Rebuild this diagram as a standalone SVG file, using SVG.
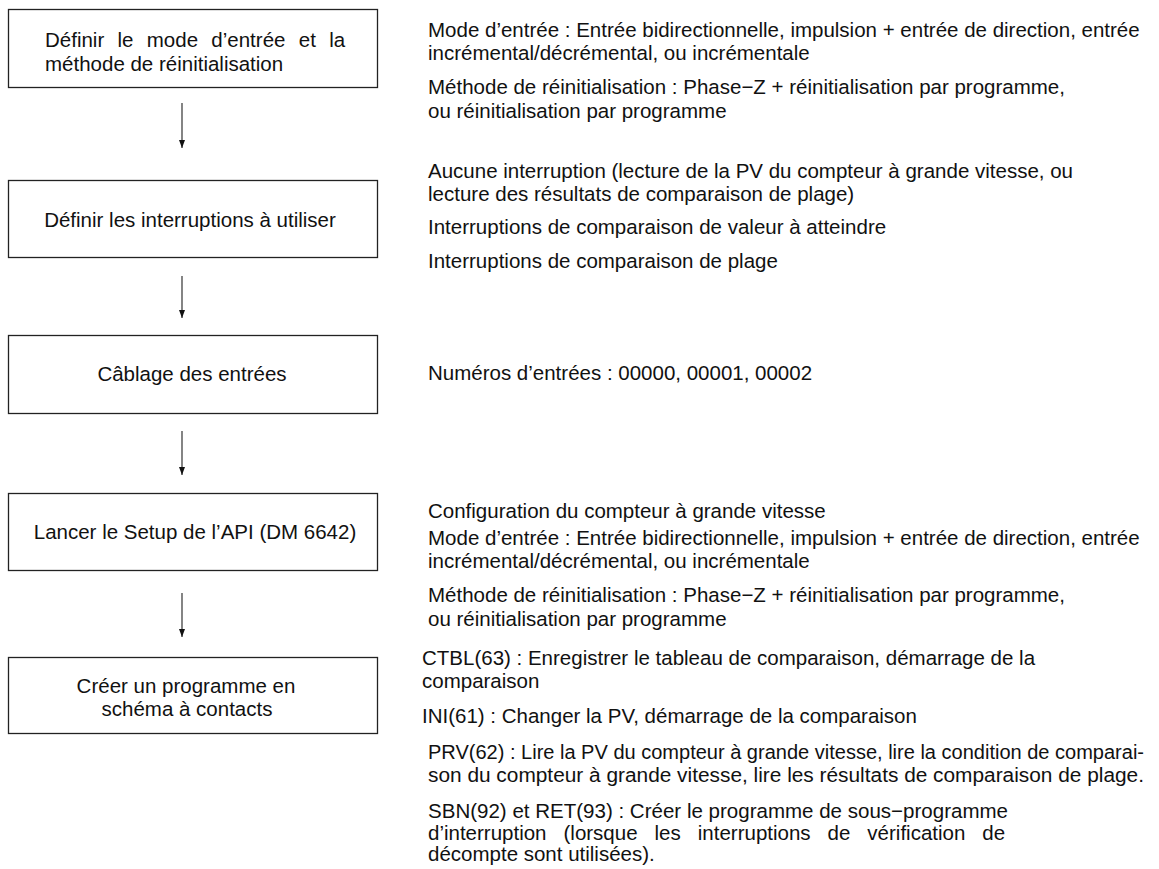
<svg xmlns="http://www.w3.org/2000/svg" width="1159" height="869" viewBox="0 0 1159 869">
<defs>
<style>
text{font-family:"Liberation Sans",Arial,Helvetica,sans-serif;font-size:20.5px;fill:#111;}
.box{fill:#fff;stroke:#222;stroke-width:1.3;}
.c{text-anchor:middle;}
.n20{font-size:20px;}
.conn{stroke:#333;stroke-width:1.2;fill:none;marker-end:url(#ah);}
</style>
<marker id="ah" viewBox="0 0 8 6" refX="8" refY="3" markerWidth="8" markerHeight="6" orient="auto" markerUnits="userSpaceOnUse">
<path d="M0,0 L8,3 L0,6 z" fill="#111"/>
</marker>
</defs>
<rect width="1159" height="869" fill="#fff"/>

<g id="connectors">
<line class="conn" x1="182" y1="103" x2="182" y2="148"/>
<line class="conn" x1="182" y1="276" x2="182" y2="318"/>
<line class="conn" x1="182" y1="431" x2="182" y2="475"/>
<line class="conn" x1="182" y1="593" x2="182" y2="637"/>
</g>

<g id="node1">
<rect class="box" x="8.5" y="9.5" width="369" height="78"/>
<text x="45" y="47" word-spacing="7.6">Définir le mode d’entrée et la</text>
<text x="45" y="71">méthode de réinitialisation</text>
</g>
<g id="node2">
<rect class="box" x="8.5" y="180.5" width="369" height="77"/>
<text class="c" x="190" y="227">Définir les interruptions à utiliser</text>
</g>
<g id="node3">
<rect class="box" x="8.5" y="335.5" width="369" height="78"/>
<text class="c" x="192" y="381">Câblage des entrées</text>
</g>
<g id="node4">
<rect class="box" x="8.5" y="493.5" width="369" height="77"/>
<text class="c" x="195" y="539">Lancer le Setup de l’API (DM 6642)</text>
</g>
<g id="node5">
<rect class="box" x="8.5" y="657.5" width="369" height="76"/>
<text class="c" x="186" y="693">Créer un programme en</text>
<text class="c" x="187" y="716">schéma à contacts</text>
</g>

<g id="notes1">
<text x="428" y="37">Mode d’entrée : Entrée bidirectionnelle, impulsion + entrée de direction, entrée</text>
<text x="428" y="60">incrémental/décrémental, ou incrémentale</text>
<text x="428" y="94">Méthode de réinitialisation : Phase−Z + réinitialisation par programme,</text>
<text x="428" y="118">ou réinitialisation par programme</text>
</g>
<g id="notes2">
<text x="428" y="178">Aucune interruption (lecture de la PV du compteur à grande vitesse, ou</text>
<text x="428" y="201">lecture des résultats de comparaison de plage)</text>
<text x="428" y="234">Interruptions de comparaison de valeur à atteindre</text>
<text x="428" y="268">Interruptions de comparaison de plage</text>
</g>
<g id="notes3">
<text x="428" y="380">Numéros d’entrées : 00000, 00001, 00002</text>
</g>
<g id="notes4">
<text x="428" y="518">Configuration du compteur à grande vitesse</text>
<text x="428" y="545">Mode d’entrée : Entrée bidirectionnelle, impulsion + entrée de direction, entrée</text>
<text x="428" y="568">incrémental/décrémental, ou incrémentale</text>
<text x="428" y="602">Méthode de réinitialisation : Phase−Z + réinitialisation par programme,</text>
<text x="428" y="626">ou réinitialisation par programme</text>
</g>
<g id="notes5">
<text x="422" y="665">CTBL(63) : Enregistrer le tableau de comparaison, démarrage de la</text>
<text x="422" y="688">comparaison</text>
<text x="422" y="723">INI(61) : Changer la PV, démarrage de la comparaison</text>
<text class="n20" x="428" y="759" textLength="716" lengthAdjust="spacingAndGlyphs">PRV(62) : Lire la PV du compteur à grande vitesse, lire la condition de comparai-</text>
<text class="n20" x="428" y="782" textLength="716" lengthAdjust="spacingAndGlyphs">son du compteur à grande vitesse, lire les résultats de comparaison de plage.</text>
<text x="428" y="818" textLength="580" lengthAdjust="spacingAndGlyphs">SBN(92) et RET(93) : Créer le programme de sous−programme</text>
<text x="428" y="840" word-spacing="11.3">d’interruption (lorsque les interruptions de vérification de</text>
<text x="428" y="861">décompte sont utilisées).</text>
</g>
</svg>
